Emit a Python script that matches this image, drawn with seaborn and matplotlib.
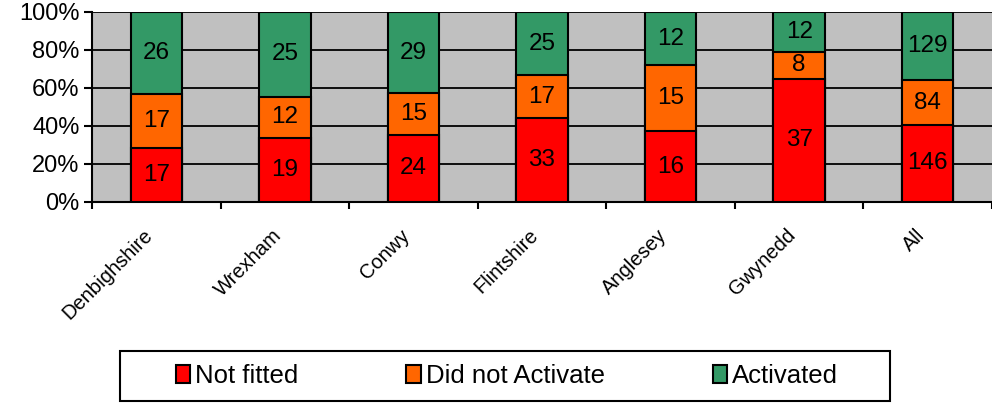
import pandas as pd
import matplotlib
matplotlib.use("Agg")
import matplotlib.pyplot as plt
import matplotlib.transforms as mtransforms
import seaborn as sns
from matplotlib.patches import Rectangle, Patch

# Data (counts per area)
areas = ["Denbighshire", "Wrexham", "Conwy", "Flintshire", "Anglesey", "Gwynedd", "All"]
not_fitted = [17, 19, 24, 33, 16, 37, 146]
did_not_activate = [17, 12, 15, 17, 15, 8, 84]
activated = [26, 25, 29, 25, 12, 12, 129]

series_names = ["Not fitted", "Did not Activate", "Activated"]
series_colors = ["#FF0000", "#FF6600", "#339966"]

plt.rcParams["font.family"] = ["Liberation Sans", "DejaVu Sans"]

df = pd.DataFrame({
    "Area": areas,
    "Not fitted": not_fitted,
    "Did not Activate": did_not_activate,
    "Activated": activated,
})
df["Total"] = df[series_names].sum(axis=1)
# cumulative percentages for stacking
df["c1"] = df["Not fitted"] / df["Total"] * 100
df["c2"] = (df["Not fitted"] + df["Did not Activate"]) / df["Total"] * 100
df["c3"] = 100.0

fig = plt.figure(figsize=(9.92, 4.04), dpi=100)
ax = fig.add_axes([92 / 992, 1 - 202 / 404, 1 - 92 / 992, 190 / 404])
ax.set_facecolor("#C0C0C0")

# draw from the top of the stack downwards
for col, color in zip(["c3", "c2", "c1"], series_colors[::-1]):
    sns.barplot(data=df, x="Area", y=col, color=color, saturation=1,
                edgecolor="black", linewidth=1.5, width=0.4, ax=ax, zorder=3)

# segment labels (counts) centred in each segment
for i, row in df.iterrows():
    bottoms = [0, row["c1"], row["c2"]]
    tops = [row["c1"], row["c2"], row["c3"]]
    for name, b, t in zip(series_names, bottoms, tops):
        ax.text(i, (b + t) / 2, str(row[name]), ha="center", va="center",
                fontsize=17.5, color="black", zorder=4)

ax.set_xlim(-0.5, len(areas) - 0.5)
ax.set_ylim(0, 100)
ax.set_yticks(range(0, 101, 20))
ax.set_yticklabels([f"{v}%" for v in range(0, 101, 20)], fontsize=17)
ax.yaxis.grid(True, color="black", linewidth=1.3)
ax.set_axisbelow(True)

ax.set_xticks(range(len(areas)))
ax.set_xticklabels(areas, rotation=45, ha="right", rotation_mode="anchor", fontsize=14.5)
ax.set_xticks([i - 0.5 for i in range(len(areas) + 1)], minor=True)
ax.tick_params(axis="x", which="major", length=0, pad=17)
ax.tick_params(axis="x", which="minor", length=5, width=1.5, direction="out")
ax.tick_params(axis="y", length=6, width=1.5, direction="out", pad=3)
# nudge rotated labels a little to the left, like the original
shift = mtransforms.ScaledTranslation(-0.13, 0, fig.dpi_scale_trans)
for lab in ax.get_xticklabels():
    lab.set_transform(lab.get_transform() + shift)
ax.set_xlabel("")
ax.set_ylabel("")

for side in ["top", "right"]:
    ax.spines[side].set_visible(False)
for side in ["left", "bottom"]:
    ax.spines[side].set_linewidth(1.5)
    ax.spines[side].set_color("black")

# legend box at the bottom
box = Rectangle((120 / 992, 3 / 404), 770 / 992, 50 / 404, transform=fig.transFigure,
                facecolor="white", edgecolor="black", linewidth=1.5)
fig.patches.append(box)
handles = [Patch(facecolor=c, edgecolor="black", linewidth=1.5) for c in series_colors]
fig.legend(handles, series_names, ncol=3, frameon=False, fontsize=18.5,
           loc="center left", bbox_to_anchor=(176 / 992, 28 / 404),
           handlelength=0.55, handleheight=0.75, handletextpad=0.2,
           columnspacing=4.2, borderaxespad=0, borderpad=0)

fig.savefig("out.png", dpi=100)
